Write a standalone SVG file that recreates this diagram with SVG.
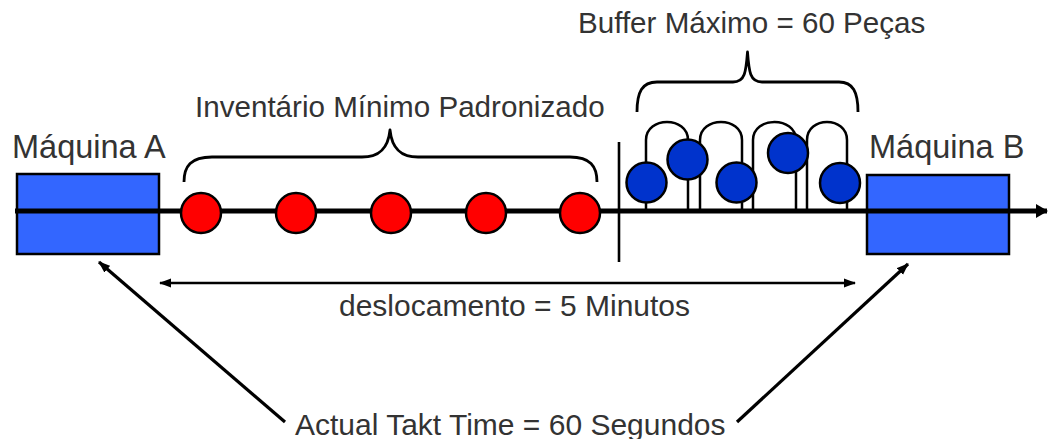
<svg xmlns="http://www.w3.org/2000/svg" width="1049" height="439" viewBox="0 0 1049 439">
<style>
  .lbl { font-family: "Liberation Sans", Arial, sans-serif; fill: #333; }
  .big { font-size: 32.5px; }
  .med { font-size: 29.6px; }
  .mach { fill: #3366FF; stroke: #000; stroke-width: 2.5; }
  .red { fill: #FF0000; stroke: #000; stroke-width: 2.5; }
  .blue { fill: #0033CC; stroke: #000; stroke-width: 2.5; }
  .brace { fill: none; stroke: #000; stroke-width: 2.8; stroke-linejoin: round; }
  .loop { fill: none; stroke: #000; stroke-width: 2.5; }
  .thin { fill: none; stroke: #000; stroke-width: 2.6; }
  .diag { fill: none; stroke: #000; stroke-width: 3.2; }
</style>
<defs>
  <marker id="mainArrow" markerUnits="userSpaceOnUse" markerWidth="12" markerHeight="14" viewBox="0 0 12 14" refX="11" refY="7" orient="auto">
    <path d="M0,0 L12,7 L0,14 z" fill="#000"/>
  </marker>
  <marker id="arr" markerUnits="userSpaceOnUse" markerWidth="12" markerHeight="10" viewBox="0 0 12 10" refX="11" refY="5" orient="auto-start-reverse">
    <path d="M0,0.5 L12,5 L0,9.5 z" fill="#000"/>
  </marker>
</defs>

<rect width="1049" height="439" fill="#fff"/>

<g id="machine-a">
  <rect class="mach" x="17" y="174" width="142" height="80"/>
  <text class="lbl big" x="12" y="158">Máquina A</text>
</g>
<g id="machine-b">
  <rect class="mach" x="867" y="175" width="142" height="79"/>
  <text class="lbl big" x="869" y="158">Máquina B</text>
</g>

<g id="connectors">
  <line x1="15" y1="211" x2="1047" y2="211" stroke="#000" stroke-width="5" marker-end="url(#mainArrow)"/>
  <line x1="619" y1="142" x2="619" y2="262" class="thin"/>
  <line x1="160" y1="283" x2="855" y2="283" class="thin" marker-start="url(#arr)" marker-end="url(#arr)"/>
  <line x1="285" y1="422" x2="99" y2="262" class="diag" marker-end="url(#arr)"/>
  <line x1="737" y1="422" x2="908" y2="264" class="diag" marker-end="url(#arr)"/>
</g>

<g id="inventory">
  <circle class="red" cx="201" cy="213" r="20"/>
  <circle class="red" cx="296" cy="213" r="20"/>
  <circle class="red" cx="391" cy="213" r="20"/>
  <circle class="red" cx="486" cy="213" r="20"/>
  <circle class="red" cx="580" cy="213" r="20"/>
  <path class="brace" d="M184,182 C184,166 191,157 212,157 H362 C378,157 388,150 390,130 C392,150 402,157 418,157 H570 C590,157 597,166 597,182"/>
  <text class="lbl med" x="195" y="117">Inventário Mínimo Padronizado</text>
</g>

<g id="buffer">
  <path class="loop" d="M646,209 V140 C646,116 688,116 688,140 V209"/>
  <path class="loop" d="M700,209 V140 C700,116 742,116 742,140 V209"/>
  <path class="loop" d="M753,209 V140 C753,116 796,116 796,140 V209"/>
  <path class="loop" d="M807,209 V140 C807,116 847,116 847,140 V209"/>
  <circle class="blue" cx="646.5" cy="182.5" r="20"/>
  <circle class="blue" cx="687.5" cy="159.5" r="20"/>
  <circle class="blue" cx="736.5" cy="182.5" r="20"/>
  <circle class="blue" cx="788" cy="153" r="20"/>
  <circle class="blue" cx="840" cy="183" r="20"/>
  <path class="brace" d="M637,112 C637,92 642,82 657,82 H733 C745,82 746,72 747.5,52 C749,72 750,82 762,82 H839 C853,82 858,92 858,112"/>
  <text class="lbl med" x="578" y="33">Buffer Máximo = 60 Peças</text>
</g>

<g id="labels">
  <text class="lbl" font-size="30" x="339" y="316">deslocamento = 5 Minutos</text>
  <text class="lbl" font-size="30" x="295" y="435">Actual Takt Time = 60 Segundos</text>
</g>
</svg>
